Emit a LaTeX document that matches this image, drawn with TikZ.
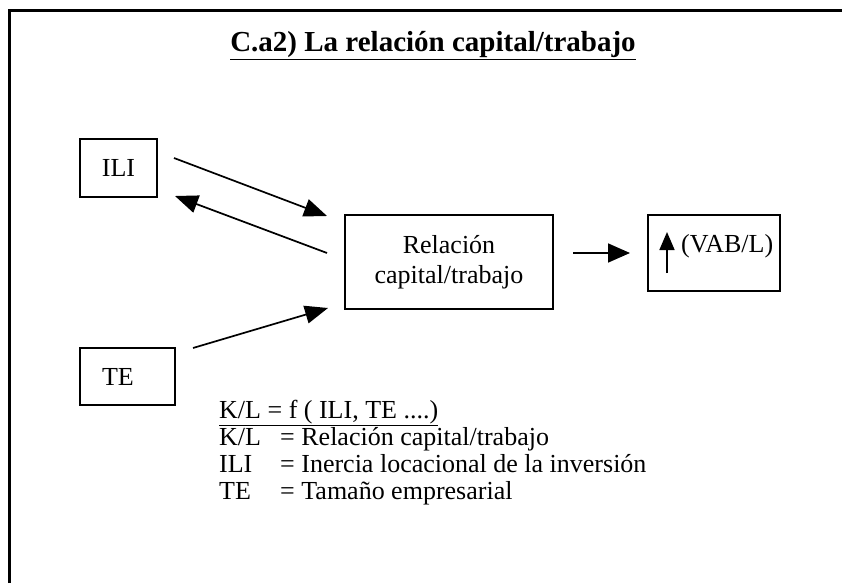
\documentclass[tikz,border=0pt]{standalone}
\usepackage{fontspec}
\setmainfont{Liberation Serif}
\usetikzlibrary{arrows.meta}
\begin{document}
\begin{tikzpicture}[x=1pt,y=-1pt,
  box/.style={draw,line width=1.3pt,inner sep=0pt},
  body/.style={font=\fontsize{26}{30}\selectfont},
  conn/.style={line width=1.7pt,-{Triangle[length=23pt,width=18pt]}},
  txt/.style={inner sep=0pt,anchor=base west,font=\fontsize{26}{27}\selectfont}]
\useasboundingbox (0,0) rectangle (842,583);
\draw[line width=2.4pt] (9.5,583) -- (9.5,10.5) -- (842,10.5);
\node[inner sep=0pt,anchor=base,font=\fontsize{29}{32}\bfseries\selectfont] (title) at (433,52) {\underline{C.a2) La relación capital/trabajo}};
% boxes
\node[box,body,minimum width=77pt,minimum height=58pt] (ili) at (118.5,168) {ILI};
\node[box,body,minimum height=57pt,text width=51pt,inner xsep=22pt,align=left] (te) at (127.5,376.5) {TE};
\node[box,body,minimum width=208pt,minimum height=94pt,align=center] (rel) at (449,262) {Relación\\capital/trabajo};
\node[box,minimum width=132pt,minimum height=76pt] (vab) at (714,253) {};
\node[txt] (vabt) at (681,252) {(VAB/L)};
% connector ends
\coordinate (a1s) at (174,158); \coordinate (a1e) at (327,216);
\coordinate (a2s) at (327,253); \coordinate (a2e) at (175,196);
\coordinate (a3s) at (193,348); \coordinate (a3e) at (328,308);
\coordinate (a4s) at (573,253); \coordinate (a4e) at (630,253);
\coordinate (ups) at (667,273); \coordinate (upe) at (667,232);
\draw[conn] (a1s) -- (a1e);
\draw[conn] (a2s) -- (a2e);
\draw[conn] (a3s) -- (a3e);
\draw[line width=1.7pt,-{Triangle[length=22pt,width=19pt]}] (a4s) -- (a4e);
\draw[line width=1.7pt,-{Triangle[length=18pt,width=15pt]}] (ups) -- (upe);
% legend
\node[txt] (f0) at (219,418) {\underline{K/L = f ( ILI, TE ....)}};
\node[txt] (f1) at (219,445) {\makebox[61pt][l]{K/L}= Relación capital/trabajo};
\node[txt] (f2) at (219,472) {\makebox[61pt][l]{ILI}= Inercia locacional de la inversión};
\node[txt] (f3) at (219,499) {\makebox[61pt][l]{TE}= Tamaño empresarial};
\end{tikzpicture}
\end{document}
